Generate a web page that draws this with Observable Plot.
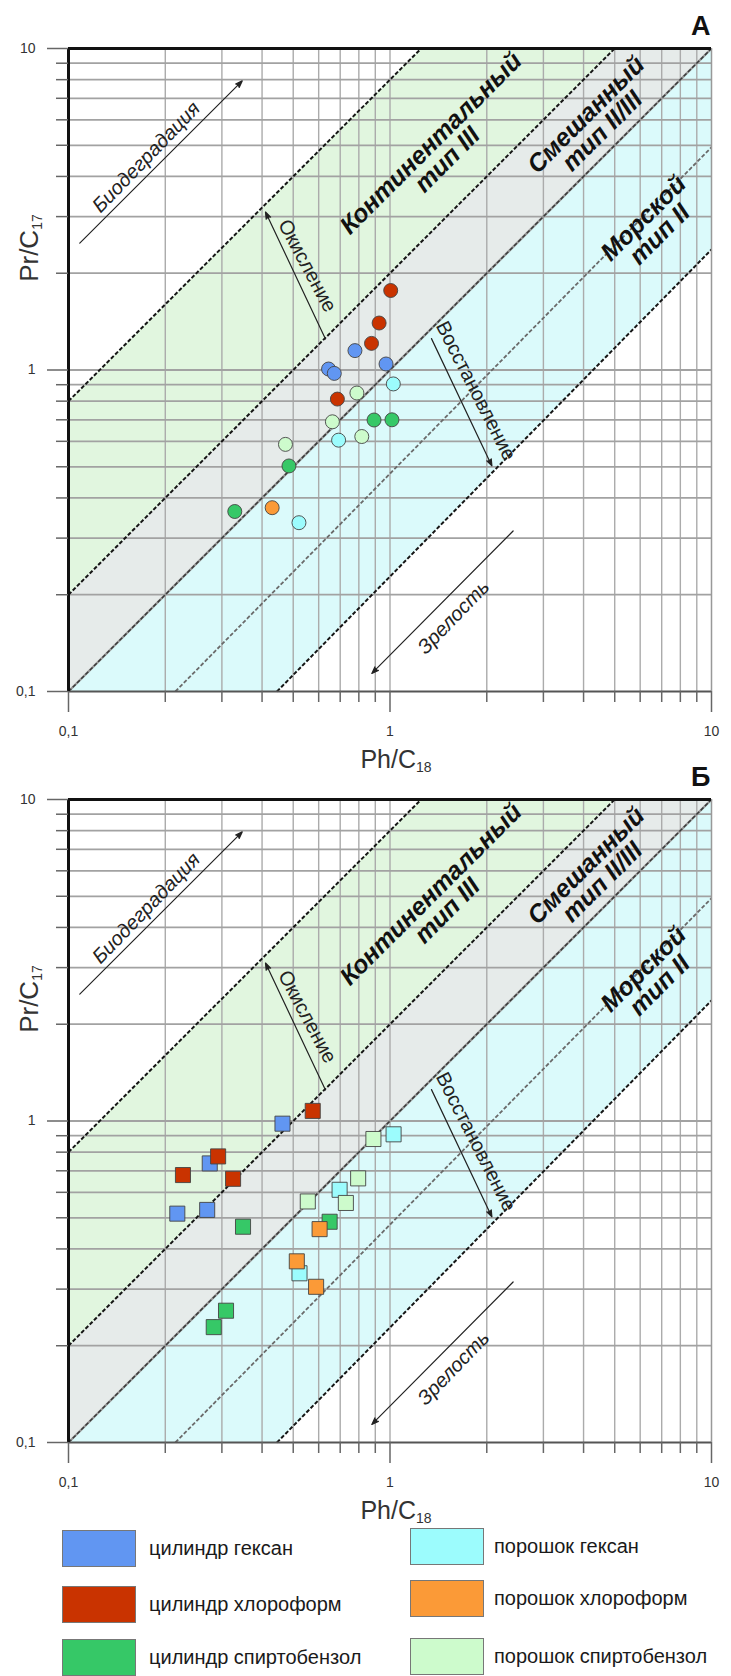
<!DOCTYPE html>
<html><head><meta charset="utf-8">
<script src="https://cdn.jsdelivr.net/npm/d3@7"></script>
<script src="https://cdn.jsdelivr.net/npm/@observablehq/plot@0.6"></script>
<style>
body{margin:0;background:#fff;font-family:"Liberation Sans",Arial,sans-serif;}
#wrap{width:731px;}
#wrap svg{display:block}
#legend{position:relative;width:731px;height:174px;}
.sw{position:absolute;width:74px;height:37px;box-sizing:border-box;border:1px solid #777;}
.lt{position:absolute;font-size:20px;color:#1a1a1a;line-height:37px;white-space:nowrap}
</style></head><body><div id="wrap"></div><div id="legend"></div>
<script>
// ---- series ----
const seriesNames = ["цилиндр гексан","цилиндр хлороформ","цилиндр спиртобензол","порошок гексан","порошок хлороформ","порошок спиртобензол"];
const seriesColors = ["#6196f2","#c93300","#36c867","#9cfcfd","#fb9a37","#cdfbcc"];
// Panel A (circles): [Ph/C18, Pr/C17]
const aCylHexane     = [[0.778,1.149],[0.644,1.007],[0.671,0.976],[0.972,1.044]];
const aCylChloroform = [[1.005,1.767],[0.925,1.40],[0.876,1.21],[0.686,0.812]];
const aCylAlcBenz    = [[0.892,0.699],[1.014,0.700],[0.485,0.503],[0.329,0.363]];
const aPowHexane     = [[1.024,0.905],[0.692,0.605],[0.521,0.335]];
const aPowChloroform = [[0.430,0.373]];
const aPowAlcBenz    = [[0.789,0.848],[0.662,0.690],[0.817,0.621],[0.473,0.587]];
// Panel Б (squares)
const bCylHexane     = [[0.463,0.981],[0.275,0.738],[0.218,0.515],[0.270,0.529]];
const bCylChloroform = [[0.575,1.075],[0.292,0.776],[0.227,0.679],[0.325,0.661]];
const bCylAlcBenz    = [[0.349,0.469],[0.649,0.486],[0.309,0.257],[0.283,0.2285]];
const bPowHexane     = [[1.026,0.909],[0.697,0.611],[0.523,0.336]];
const bPowChloroform = [[0.604,0.461],[0.513,0.366],[0.589,0.305]];
const bPowAlcBenz    = [[0.888,0.879],[0.796,0.663],[0.555,0.562],[0.729,0.556]];

// ---- axes / grid ----
const majorTicks = [0.1, 1, 10];
const minorTicks = [0.2,0.3,0.4,0.5,0.6,0.7,0.8,0.9,2,3,4,5,6,7,8,9];
const gridValues = [0.2,0.3,0.4,0.5,0.6,0.7,0.8,0.9,1,2,3,4,5,6,7,8,9];
const xTitle = "Ph/C18";
const yTitle = "Pr/C17";
const yTitlePos = [{y: 1.88, text: yTitle}];

// ---- genetic-type zones (vertices) ----
const zoneContinental = [[0.1,0.2],[0.1,0.8],[1.25,10],[5,10]];
const zoneMixed       = [[0.1,0.1],[0.1,0.2],[5,10],[10,10]];
const zoneMarine      = [[0.1,0.1],[10,10],[10,2.37],[0.445,0.1]];
const blackDashed = [
  {x1:0.1, y1:0.8, x2:1.25, y2:10},
  {x1:0.1, y1:0.2, x2:5, y2:10},
  {x1:0.445, y1:0.1, x2:10, y2:2.37}
];
const greyDashed = [{x1:0.215, y1:0.1, x2:10, y2:4.93}];
const diagonal   = [{x1:0.1, y1:0.1, x2:10, y2:10}];

const zoneLabels = [
  {x:1.426, y:4.77, text:"Континентальный\nтип III"},
  {x:4.33,  y:5.85, text:"Смешанный\nтип II/III"},
  {x:6.53,  y:2.79, text:"Морской\nтип II"}
];
const arrows = [
  {x1:0.1084, y1:2.48,  x2:0.347, y2:7.93},
  {x1:0.63,   y1:1.249, x2:0.41,  y2:3.10},
  {x1:1.346,  y1:1.252, x2:2.075, y2:0.503},
  {x1:2.415,  y1:0.3157,x2:0.878, y2:0.1138}
];
const italicLabels = [
  {x:0.1745, y:4.59,  text:"Биодеградация", angle:-46},
  {x:1.576,  y:0.1704,text:"Зрелость", angle:-46}
];
const plainLabels = [
  {x:0.5525, y:2.11,  text:"Окисление", angle:62},
  {x:1.85,   y:0.862, text:"Восстановление", angle:63}
];

const FONT = "'Liberation Sans', Arial, sans-serif";
const fmt = d => String(d).replace(".", ",");

function panel(letter, sets, symbol, r) {
  const pts = [];
  const order = [0,3,2,5,1,4];
  order.forEach(i => sets[i].forEach(p => pts.push({x:p[0], y:p[1], c:seriesColors[i]})));
  const svg = Plot.plot({
    width: 731, height: 751,
    marginTop: 48, marginBottom: 60, marginLeft: 68, marginRight: 20,
    x: {type:"log", domain:[0.1,10], axis:null},
    y: {type:"log", domain:[0.1,10], axis:null},
    style: {fontFamily: FONT, background:"#fff", overflow:"visible"},
    marks: [
      Plot.line(zoneContinental, {x:d=>d[0], y:d=>d[1], fill:"#e1f6df", stroke:"none"}),
      Plot.line(zoneMixed, {x:d=>d[0], y:d=>d[1], fill:"#e6ebea", stroke:"none"}),
      Plot.line(zoneMarine, {x:d=>d[0], y:d=>d[1], fill:"#dbfafb", stroke:"none"}),
      Plot.ruleX(gridValues, {stroke:"#ababab", strokeWidth:1.4}),
      Plot.ruleY(gridValues, {stroke:"#a2a2a2", strokeWidth:1.8}),
      Plot.link(diagonal, {x1:"x1",y1:"y1",x2:"x2",y2:"y2", stroke:"#9a9a9a", strokeWidth:2.4}),
      Plot.link(diagonal, {x1:"x1",y1:"y1",x2:"x2",y2:"y2", stroke:"#3a3a3a", strokeWidth:1.5, strokeDasharray:"4,2"}),
      Plot.link(greyDashed, {x1:"x1",y1:"y1",x2:"x2",y2:"y2", stroke:"#6a6a6a", strokeWidth:1.8, strokeDasharray:"4,2"}),
      Plot.link(blackDashed, {x1:"x1",y1:"y1",x2:"x2",y2:"y2", stroke:"#151515", strokeWidth:2, strokeDasharray:"4,2"}),
      Plot.ruleX([10], {stroke:"#999", strokeWidth:1.5}),
      Plot.ruleY([0.1], {stroke:"#555", strokeWidth:2}),
      Plot.ruleX([0.1], {stroke:"#111", strokeWidth:3}),
      Plot.ruleY([10], {stroke:"#111", strokeWidth:3}),
      Plot.axisY(minorTicks, {tickSize:12, tickFormat:()=>"", stroke:"#666", strokeWidth:1.5, label:null}),
      Plot.axisY(majorTicks, {tickSize:21, tickPadding:12, tickFormat:fmt, fontSize:14, fill:"#333", stroke:"#666", strokeWidth:1.5, label:null}),
      Plot.axisX(minorTicks, {tickSize:11, tickFormat:()=>"", stroke:"#666", strokeWidth:1.5, label:null}),
      Plot.axisX(majorTicks, {tickSize:21, tickPadding:14, tickFormat:fmt, fontSize:14, fill:"#333", stroke:"#666", strokeWidth:1.5, label:null}),
      Plot.text(zoneLabels, {x:"x", y:"y", text:"text", rotate:-45, fontSize:25, fontWeight:"bold", fontStyle:"italic", lineHeight:0.92, fill:"#111"}),
      Plot.arrow(arrows, {x1:"x1",y1:"y1",x2:"x2",y2:"y2", stroke:"#222", fill:"#222", strokeWidth:1.2, headLength:9, headAngle:40}),
      Plot.text(italicLabels, {x:"x", y:"y", text:"text", rotate:"angle", fontSize:20, fontStyle:"italic", fill:"#222"}),
      Plot.text(plainLabels, {x:"x", y:"y", text:"text", rotate:"angle", fontSize:20, fill:"#222"}),
      Plot.dot(pts, {x:"x", y:"y", r, symbol, fill:"c", stroke:"#444", strokeWidth:0.9}),
      Plot.text([letter], {frameAnchor:"top-right", dx:-1, dy:-14, textAnchor:"end", lineAnchor:"bottom", fontSize:27, fontWeight:"bold", fill:"#111"}),
      Plot.text([xTitle], {frameAnchor:"bottom", dx:6, dy:76, lineAnchor:"bottom", fontSize:25, fill:"#333"}),
      Plot.text(yTitlePos, {y:"y", text:"text", frameAnchor:"left", dx:-31, rotate:-90, lineAnchor:"bottom", fontSize:26, fill:"#333"})
    ]
  });
  // subscripts in axis titles
  d3.select(svg).selectAll("text").each(function() {
    const t = this.textContent;
    if (t === xTitle || t === yTitle) {
      const sel = d3.select(this);
      sel.text(t.slice(0, 4));
      sel.append("tspan").attr("font-size", 14).attr("dy", "0.3em").text(t.slice(4));
    }
  });
  return svg;
}

const wrap = document.getElementById("wrap");
wrap.appendChild(panel("А", [aCylHexane,aCylChloroform,aCylAlcBenz,aPowHexane,aPowChloroform,aPowAlcBenz], "circle", 7));
wrap.appendChild(panel("Б", [bCylHexane,bCylChloroform,bCylAlcBenz,bPowHexane,bPowChloroform,bPowAlcBenz], "square", 8.5));

// ---- legend ----
const leg = document.getElementById("legend");
const legTops = [[28,84,137],[26,78,136]];
const legX = [[62,149],[410,494]];
seriesNames.forEach((name, i) => {
  const col = i < 3 ? 0 : 1, row = i % 3;
  const sw = document.createElement("div");
  sw.className = "sw";
  sw.style.left = legX[col][0] + "px";
  sw.style.top = legTops[col][row] + "px";
  sw.style.background = seriesColors[i];
  leg.appendChild(sw);
  const tx = document.createElement("div");
  tx.className = "lt";
  tx.style.left = legX[col][1] + "px";
  tx.style.top = legTops[col][row] + "px";
  tx.textContent = name;
  leg.appendChild(tx);
});
</script></body></html>
